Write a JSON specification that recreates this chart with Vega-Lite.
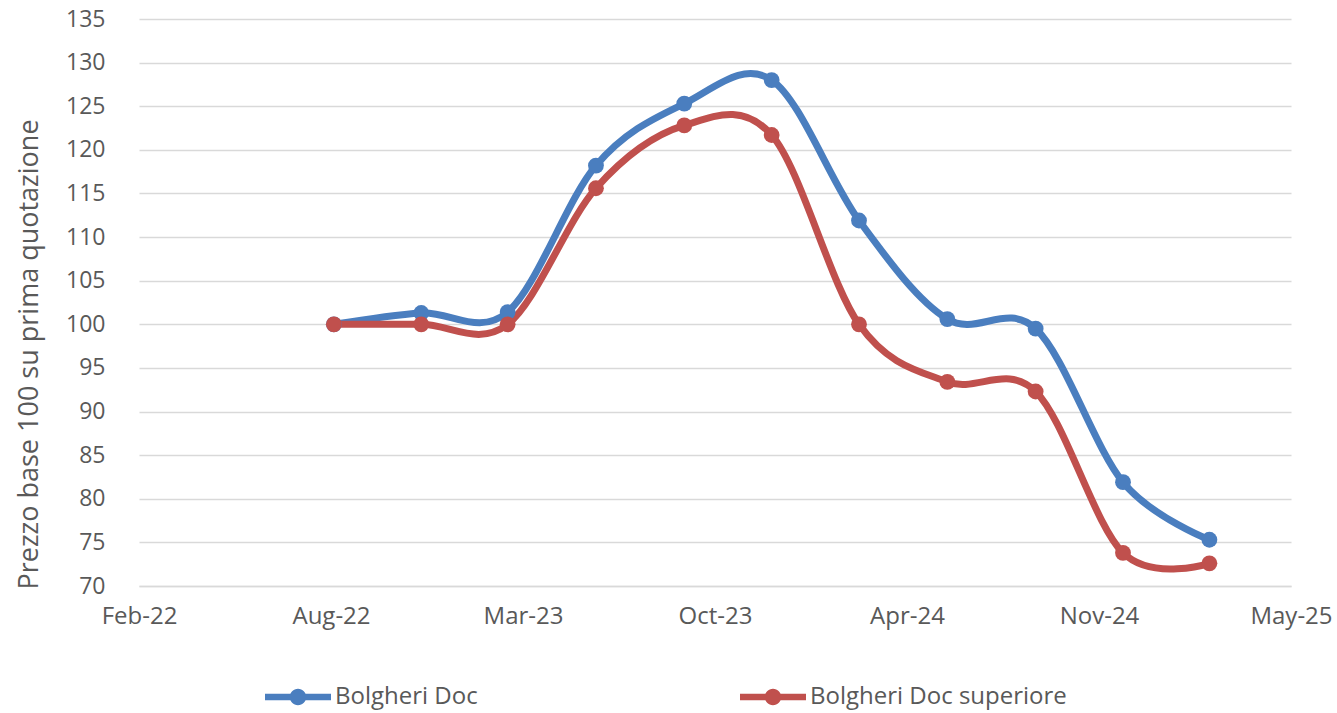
{
  "$schema": "https://vega.github.io/schema/vega-lite/v6.json",
  "width": 1152,
  "height": 567,
  "autosize": {"type": "none"},
  "padding": {"left": 139, "top": 19, "right": 46, "bottom": 127},
  "background": "white",
  "config": {
    "font": "Open Sans",
    "view": {"stroke": null},
    "axis": {
      "labelColor": "#595959",
      "titleColor": "#595959",
      "labelFontSize": 23,
      "titleFontSize": 27,
      "titleFontWeight": "normal",
      "labelFont": "Open Sans",
      "titleFont": "Open Sans"
    }
  },
  "data": {
    "values": [
      {"date": "2022/09/01", "serie": "Bolgheri Doc", "indice": 100.0},
      {"date": "2022/12/01", "serie": "Bolgheri Doc", "indice": 101.3},
      {"date": "2023/03/01", "serie": "Bolgheri Doc", "indice": 101.4},
      {"date": "2023/06/01", "serie": "Bolgheri Doc", "indice": 118.2},
      {"date": "2023/09/01", "serie": "Bolgheri Doc", "indice": 125.3},
      {"date": "2023/12/01", "serie": "Bolgheri Doc", "indice": 128.0},
      {"date": "2024/03/01", "serie": "Bolgheri Doc", "indice": 111.9},
      {"date": "2024/06/01", "serie": "Bolgheri Doc", "indice": 100.6},
      {"date": "2024/09/01", "serie": "Bolgheri Doc", "indice": 99.5},
      {"date": "2024/12/01", "serie": "Bolgheri Doc", "indice": 81.9},
      {"date": "2025/03/01", "serie": "Bolgheri Doc", "indice": 75.3},
      {"date": "2022/09/01", "serie": "Bolgheri Doc superiore", "indice": 100.0},
      {"date": "2022/12/01", "serie": "Bolgheri Doc superiore", "indice": 100.0},
      {"date": "2023/03/01", "serie": "Bolgheri Doc superiore", "indice": 100.0},
      {"date": "2023/06/01", "serie": "Bolgheri Doc superiore", "indice": 115.6},
      {"date": "2023/09/01", "serie": "Bolgheri Doc superiore", "indice": 122.8},
      {"date": "2023/12/01", "serie": "Bolgheri Doc superiore", "indice": 121.7},
      {"date": "2024/03/01", "serie": "Bolgheri Doc superiore", "indice": 100.0},
      {"date": "2024/06/01", "serie": "Bolgheri Doc superiore", "indice": 93.4},
      {"date": "2024/09/01", "serie": "Bolgheri Doc superiore", "indice": 92.3},
      {"date": "2024/12/01", "serie": "Bolgheri Doc superiore", "indice": 73.8},
      {"date": "2025/03/01", "serie": "Bolgheri Doc superiore", "indice": 72.6}
    ]
  },
  "encoding": {
    "x": {
      "field": "date",
      "type": "temporal",
      "scale": {
        "domain": [
          {"year": 2022, "month": 2, "date": 10},
          {"year": 2025, "month": 5, "date": 25}
        ],
        "nice": false
      },
      "axis": {
        "title": null,
        "format": "%b-%y",
        "values": [
          {"year": 2022, "month": 2, "date": 10},
          {"year": 2022, "month": 8, "date": 29},
          {"year": 2023, "month": 3, "date": 17},
          {"year": 2023, "month": 10, "date": 3},
          {"year": 2024, "month": 4, "date": 20},
          {"year": 2024, "month": 11, "date": 6},
          {"year": 2025, "month": 5, "date": 25}
        ],
        "grid": false,
        "ticks": false,
        "domain": true,
        "domainColor": "#D9D9D9",
        "domainWidth": 1.5,
        "labelFontSize": 24,
        "labelPadding": 18,
        "labelFlush": false,
        "labelOverlap": false
      }
    },
    "y": {
      "field": "indice",
      "type": "quantitative",
      "scale": {"domain": [70, 135], "nice": false, "zero": false},
      "axis": {
        "title": "Prezzo base 100 su prima  quotazione",
        "values": [70, 75, 80, 85, 90, 95, 100, 105, 110, 115, 120, 125, 130, 135],
        "grid": true,
        "gridColor": "#D9D9D9",
        "gridWidth": 1.5,
        "domain": false,
        "ticks": false,
        "labelPadding": 34,
        "titleAngle": -90,
        "titleX": -110,
        "titleY": 335,
        "titleAlign": "center",
        "titleBaseline": "middle"
      }
    },
    "color": {
      "field": "serie",
      "type": "nominal",
      "scale": {
        "domain": ["Bolgheri Doc", "Bolgheri Doc superiore"],
        "range": ["#4A7EBF", "#C0504D"]
      },
      "legend": {
        "title": null,
        "orient": "none",
        "legendX": 126,
        "legendY": 645,
        "direction": "horizontal",
        "columns": 2,
        "columnPadding": 262,
        "symbolType": "M-1,-0.1H1V0.1H-1Z M-0.25,0A0.25,0.25,0,1,1,0.25,0A0.25,0.25,0,1,1,-0.25,0Z",
        "symbolSize": 4356,
        "symbolStrokeWidth": 0,
        "labelFontSize": 24,
        "labelColor": "#595959",
        "labelFont": "Open Sans",
        "labelOffset": 4,
        "labelLimit": 500,
        "encode": {
          "symbols": {
            "update": {
              "fill": {"scale": "color", "field": "value"},
              "stroke": {"value": "transparent"},
              "opacity": {"value": 1}
            }
          }
        }
      }
    }
  },
  "layer": [
    {
      "mark": {"type": "line", "interpolate": "cardinal", "strokeWidth": 7, "strokeCap": "round", "strokeJoin": "round"}
    },
    {
      "mark": {"type": "point", "filled": true, "size": 250, "opacity": 1}
    }
  ]
}
